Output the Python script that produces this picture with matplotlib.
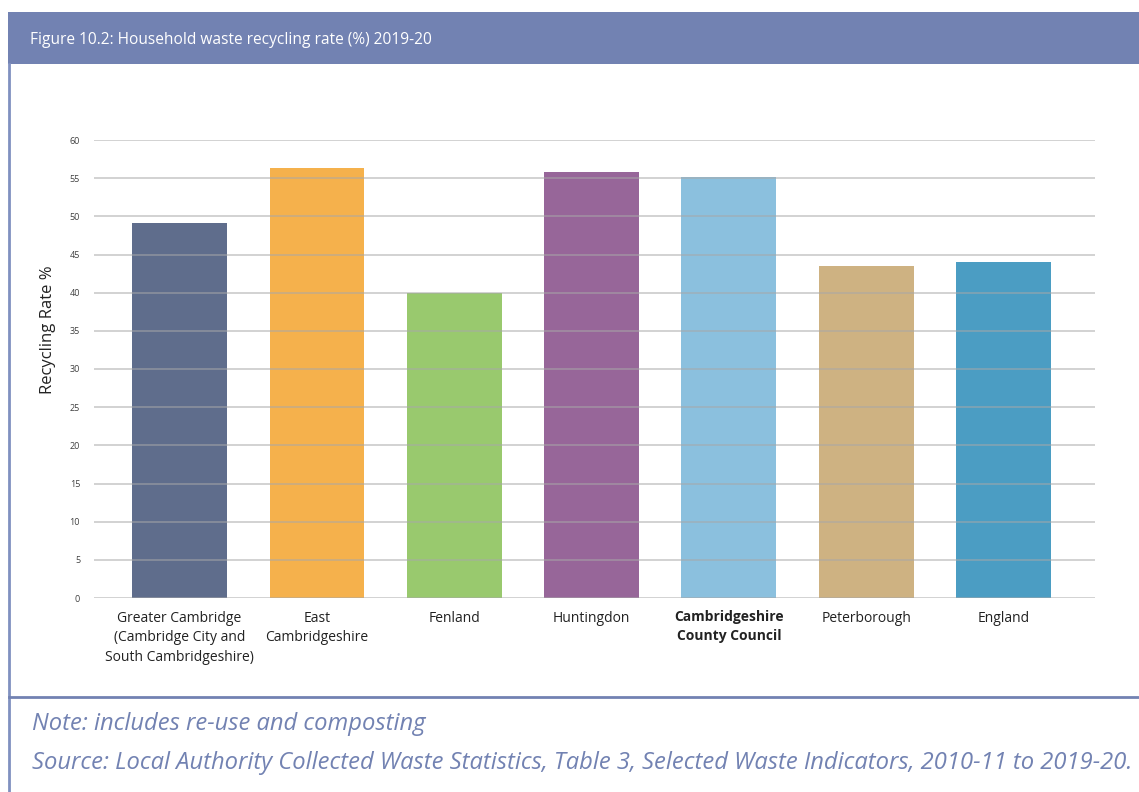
import matplotlib
matplotlib.use('Agg')
import matplotlib.pyplot as plt
from matplotlib.patches import Rectangle
from matplotlib.lines import Line2D

plt.rcParams['font.family'] = ['Open Sans', 'DejaVu Sans']

# data
areas = ['Greater Cambridge\n(Cambridge City and\nSouth Cambridgeshire)', 'East\nCambridgeshire', 'Fenland',
         'Huntingdon', 'Cambridgeshire\nCounty Council', 'Peterborough', 'England']
rates = [49.1, 56.3, 40.0, 55.8, 55.2, 43.5, 44.0]
bar_colors = ['#5f6d8c', '#f5b14c', '#99c96e', '#976699', '#8bc0de', '#ceb282', '#4b9dc3']
y_ticks = [0, 5, 10, 15, 20, 25, 30, 35, 40, 45, 50, 55, 60]

title = 'Figure 10.2: Household waste recycling rate (%) 2019-20'
note = 'Note: includes re-use and composting'
source = 'Source: Local Authority Collected Waste Statistics, Table 3, Selected Waste Indicators, 2010-11 to 2019-20.'

W, H = 1139, 792
frame_col = '#7282b2'

fig = plt.figure(figsize=(W / 100, H / 100), dpi=100)

# header band and frame lines (figure pixel coords converted to fractions)
fig.patches.append(Rectangle((8 / W, 1 - 64 / H), 1, 52 / H, transform=fig.transFigure,
                             facecolor=frame_col, edgecolor='none'))
fig.lines.append(Line2D([9 / W, 9 / W], [0, 1 - 64 / H], transform=fig.transFigure, color='#8090c0', lw=2))
fig.lines.append(Line2D([9 / W, 1], [1 - 697 / H, 1 - 697 / H], transform=fig.transFigure, color=frame_col, lw=2))
fig.text(30 / W, 1 - 40 / H, title, color='white', fontsize=11.2, va='center', ha='left')

ax = fig.add_axes([94 / W, 1 - 598 / H, (1095 - 94) / W, (598 - 140) / H])
x = list(range(len(areas)))
ax.bar(x, rates, width=0.69, color=bar_colors, zorder=1)
for t in y_ticks:
    ax.axhline(t, color='#a8a8a8', lw=1.2, alpha=0.6, zorder=2)

ax.set_xlim(-0.623, 6.666)
ax.set_ylim(0, 60)
ax.set_yticks(y_ticks)
ax.set_yticklabels([str(t) for t in y_ticks], fontsize=6.5, color='#404040')
ax.set_xticks(x)
ax.set_xticklabels(areas, fontsize=10, color='#222222', linespacing=1.45)
for lbl in ax.get_xticklabels():
    if lbl.get_text().startswith('Cambridgeshire'):
        lbl.set_fontweight('bold')
ax.tick_params(axis='both', length=0)
ax.tick_params(axis='x', pad=9)
ax.tick_params(axis='y', pad=10)
for s in ax.spines.values():
    s.set_visible(False)
ax.set_ylabel('Recycling Rate %', fontsize=12, color='#222222')
ax.yaxis.set_label_coords(-0.038, 0.585)

fig.text(32 / W, 1 - 724 / H, note, color=frame_col, fontsize=17.1, style='italic', va='center', ha='left')
fig.text(32 / W, 1 - 763 / H, source, color=frame_col, fontsize=17.1, style='italic', va='center', ha='left')

fig.savefig('out.png', dpi=100)
